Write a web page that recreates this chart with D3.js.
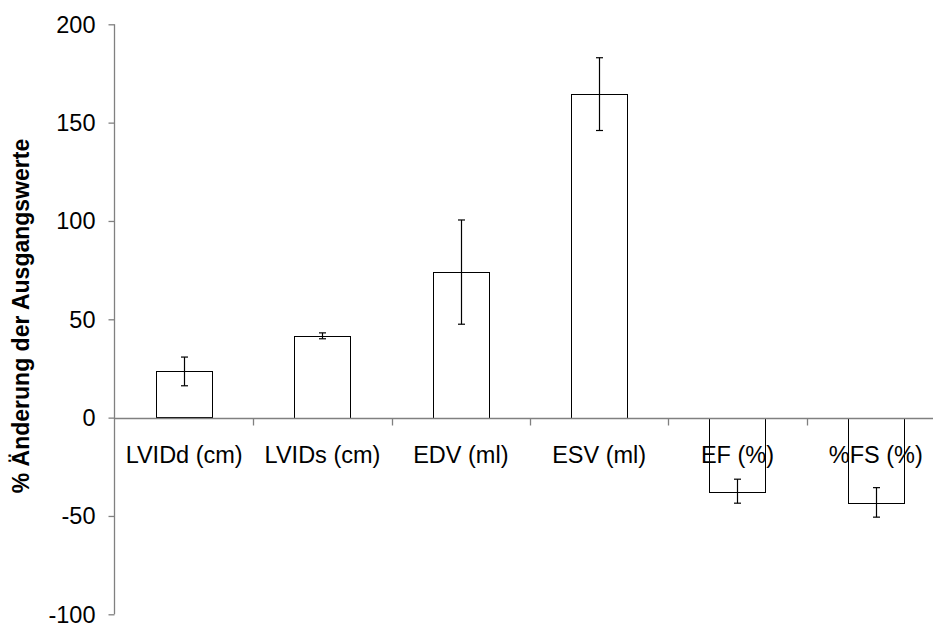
<!DOCTYPE html>
<html>
<head>
<meta charset="utf-8">
<script src="https://cdn.jsdelivr.net/npm/d3@7"></script>
<style>
  body { margin: 0; background: #fff; }
  svg text { font-family: "Liberation Sans", Arial, sans-serif; fill: #000; }
</style>
</head>
<body>
<div id="chart"></div>
<script>
// data
const categories = ["LVIDd (cm)", "LVIDs (cm)", "EDV (ml)", "ESV (ml)", "EF (%)", "%FS (%)"]
const values = [23.5, 41.6, 74, 164.5, -37.4, -43.1]
const errors = [7.3, 1.5, 26.5, 18.5, 6.1, 7.5]
const yTicks = [-100, -50, 0, 50, 100, 150, 200]

const width = 933
const height = 623

const marginLeft = 115
const marginTop = 24.3
const plotBottom = 614.3

const svg = d3.select("#chart").append("svg")
    .attr("width", width)
    .attr("height", height)

const x = d3.scaleBand()
    .domain(categories)
    .range([marginLeft, marginLeft + 6 * 138.33])
    .padding(0)

const y = d3.scaleLinear()
    .domain([-100, 200])
    .range([plotBottom, marginTop])

const barW = x.bandwidth() * 0.407

// bars
svg.append("g")
    .selectAll("rect")
    .data(categories)
    .join("rect")
    .attr("x", (d, i) => Math.round(x(d) + x.bandwidth() / 2 - barW / 2) + 0.5)
    .attr("y", (d, i) => Math.round(y(Math.max(0, values[i]))) + 0.5)
    .attr("width", Math.round(barW))
    .attr("height", (d, i) => Math.round(Math.abs(y(values[i]) - y(0))))
    .attr("fill", "#fff")
    .attr("stroke", "#000")
    .attr("stroke-width", 1)

// error bars
const err = svg.append("g").attr("stroke", "#000").attr("stroke-width", 1.2)
categories.forEach((d, i) => {
    const cx = Math.round(x(d) + x.bandwidth() / 2) + 0.5
    const hi = y(values[i] + errors[i])
    const lo = y(values[i] - errors[i])
    err.append("line").attr("x1", cx).attr("x2", cx).attr("y1", hi).attr("y2", lo)
    err.append("line").attr("x1", cx - 3.5).attr("x2", cx + 3.5).attr("y1", hi).attr("y2", hi)
    err.append("line").attr("x1", cx - 3.5).attr("x2", cx + 3.5).attr("y1", lo).attr("y2", lo)
})

// y axis
const yAxis = svg.append("g")
    .attr("transform", "translate(" + (marginLeft - 0.5) + ",0)")
    .call(d3.axisLeft(y).tickValues(yTicks).tickSize(6).tickPadding(13).tickFormat(d => String(d)))
yAxis.select(".domain").attr("stroke", "#808080").attr("stroke-width", 1.3)
    .attr("d", "M0," + y(200) + "V" + y(-100))
yAxis.selectAll(".tick line").attr("stroke", "#808080").attr("stroke-width", 1.3)
yAxis.selectAll(".tick text").style("font-size", "23.5px").attr("fill", "#000")
    .attr("dy", "0.34em")

// x axis at zero
const xAxis = svg.append("g")
    .attr("transform", "translate(0," + (Math.round(y(0)) + 0.5) + ")")
xAxis.append("line")
    .attr("x1", marginLeft).attr("x2", width)
    .attr("stroke", "#808080").attr("stroke-width", 1.3)
xAxis.selectAll(".cat-tick")
    .data(categories.slice(1))
    .join("line")
    .attr("class", "cat-tick")
    .attr("x1", d => Math.round(x(d)) + 0.5)
    .attr("x2", d => Math.round(x(d)) + 0.5)
    .attr("y1", 0).attr("y2", 7)
    .attr("stroke", "#808080").attr("stroke-width", 1.3)
xAxis.selectAll(".cat-label")
    .data(categories)
    .join("text")
    .attr("class", "cat-label")
    .attr("x", d => x(d) + x.bandwidth() / 2)
    .attr("y", 44)
    .attr("text-anchor", "middle")
    .style("font-size", "23.5px")
    .text(d => d)

// y title
svg.append("text")
    .attr("transform", "translate(29," + 316 + ") rotate(-90)")
    .attr("text-anchor", "middle")
    .style("font-size", "23px")
    .style("font-weight", "bold")
    .text("% Änderung der Ausgangswerte")
</script>
</body>
</html>
